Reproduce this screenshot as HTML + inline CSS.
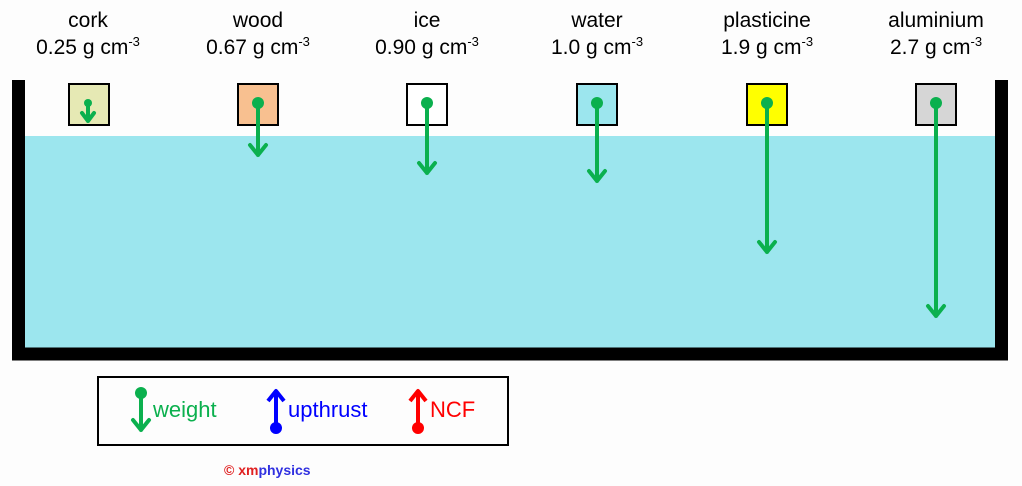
<!DOCTYPE html>
<html><head><meta charset="utf-8"><style>
body{margin:0;background:#fdfdfd;}
svg{display:block;font-family:"Liberation Sans",sans-serif;}
</style></head><body>
<svg width="1022" height="486" viewBox="0 0 1022 486">
<rect x="25" y="136" width="970" height="212" fill="#9ce6ee"/>
<path d="M18.5 80 V354 H1001.5 V80" fill="none" stroke="#000" stroke-width="13"/>
<g font-size="21" text-anchor="middle" fill="#000">
<text x="88" y="27">cork</text><text x="88" y="54">0.25 g cm<tspan font-size="13" dy="-8">-3</tspan></text>
<text x="258" y="27">wood</text><text x="258" y="54">0.67 g cm<tspan font-size="13" dy="-8">-3</tspan></text>
<text x="427" y="27">ice</text><text x="427" y="54">0.90 g cm<tspan font-size="13" dy="-8">-3</tspan></text>
<text x="597" y="27">water</text><text x="597" y="54">1.0 g cm<tspan font-size="13" dy="-8">-3</tspan></text>
<text x="767" y="27">plasticine</text><text x="767" y="54">1.9 g cm<tspan font-size="13" dy="-8">-3</tspan></text>
<text x="936" y="27">aluminium</text><text x="936" y="54">2.7 g cm<tspan font-size="13" dy="-8">-3</tspan></text>
</g>
<g stroke="#000" stroke-width="2">
<rect x="69" y="84" width="40" height="41" fill="#e6e9b4"/>
<rect x="238" y="84" width="40" height="41" fill="#f8c090"/>
<rect x="407" y="84" width="40" height="41" fill="#fff"/>
<rect x="577" y="84" width="40" height="41" fill="#9ce6ee"/>
<rect x="747" y="84" width="40" height="41" fill="#ffff00"/>
<rect x="916" y="84" width="40" height="41" fill="#d6d6d6"/>
</g>
<g stroke="#0bb04e" stroke-width="4" fill="none" stroke-linecap="round" stroke-linejoin="round">
<path d="M88 103V121M82 113L88 121L94 113"/>
<path d="M258 103V155M250 145L258 155L266 145"/>
<path d="M427 103V173M419 163L427 173L435 163"/>
<path d="M597 103V181M589 171L597 181L605 171"/>
<path d="M767 103V252M759 242L767 252L775 242"/>
<path d="M936 103V316M928 306L936 316L944 306"/>
<path d="M141 393V430M133 420L141 430L149 420"/>
</g>
<g fill="#0bb04e">
<circle cx="88" cy="103" r="4"/><circle cx="258" cy="103" r="6"/><circle cx="427" cy="103" r="6"/>
<circle cx="597" cy="103" r="6"/><circle cx="767" cy="103" r="6"/><circle cx="936" cy="103" r="6"/>
<circle cx="141" cy="393" r="6"/>
</g>
<rect x="98" y="377" width="410" height="68" fill="none" stroke="#000" stroke-width="2"/>
<g stroke="#0000ff" stroke-width="4" fill="none" stroke-linejoin="round"><path d="M276 427V391M268 401L276 391L284 401"/></g>
<circle cx="276" cy="428" r="6" fill="#0000ff"/>
<g stroke="#ff0000" stroke-width="4" fill="none" stroke-linejoin="round"><path d="M418 427V391M410 401L418 391L426 401"/></g>
<circle cx="418" cy="428" r="6" fill="#ff0000"/>
<g font-size="22">
<text x="153" y="417" fill="#0bb04e">weight</text>
<text x="288" y="417" fill="#0000ff">upthrust</text>
<text x="430" y="417" fill="#ff0000">NCF</text>
</g>
<text x="224" y="475" font-size="14" font-weight="bold"><tspan fill="#e02020">© xm</tspan><tspan fill="#3030e0">physics</tspan></text>
</svg>
</body></html>
